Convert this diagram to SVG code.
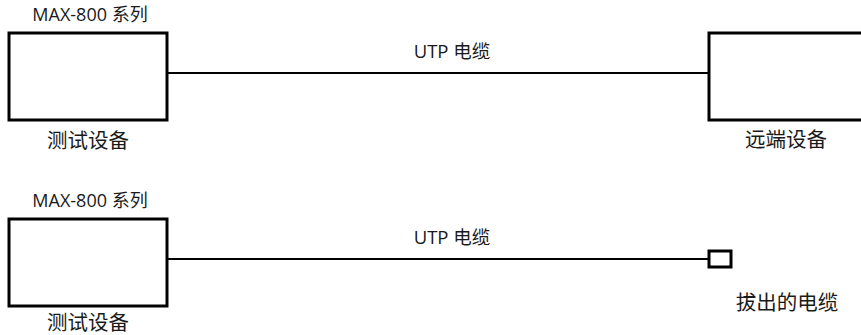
<svg xmlns="http://www.w3.org/2000/svg" width="861" height="335" viewBox="0 0 861 335">
<style>
.box{fill:#fff;stroke:#000;stroke-width:3}
.wire{stroke:#000;stroke-width:2;fill:none}
.t{font-family:"Open Sans","Noto Sans","Noto Sans CJK SC",sans-serif;fill:#1a1a1a;text-anchor:middle}
.s{font-size:18px}
.u{font-size:18.5px}
.l{font-size:20.5px}
</style>
<rect width="861" height="335" fill="#fff"/>
<g id="connectors">
<line class="wire" x1="167" y1="73" x2="708" y2="73"/>
<line class="wire" x1="167" y1="259" x2="708" y2="259"/>
</g>
<g id="tester1">
<text class="t s" x="90" y="21">MAX-800 系列</text>
<rect class="box" x="9" y="33" width="158" height="87"/>
<text class="t l" x="88" y="148">测试设备</text>
</g>
<g id="remote">
<rect class="box" x="709" y="33" width="170" height="87"/>
<text class="t l" x="786" y="147">远端设备</text>
</g>
<g id="tester2">
<text class="t s" x="90" y="207">MAX-800 系列</text>
<rect class="box" x="9" y="219" width="158" height="87"/>
<text class="t l" x="88" y="330">测试设备</text>
</g>
<g id="unplugged">
<rect class="box" x="709" y="251" width="22" height="16"/>
<text class="t l" x="787" y="310">拔出的电缆</text>
</g>
<g id="labels">
<text class="t u" x="452" y="58">UTP 电缆</text>
<text class="t u" x="452" y="244">UTP 电缆</text>
</g>
</svg>
